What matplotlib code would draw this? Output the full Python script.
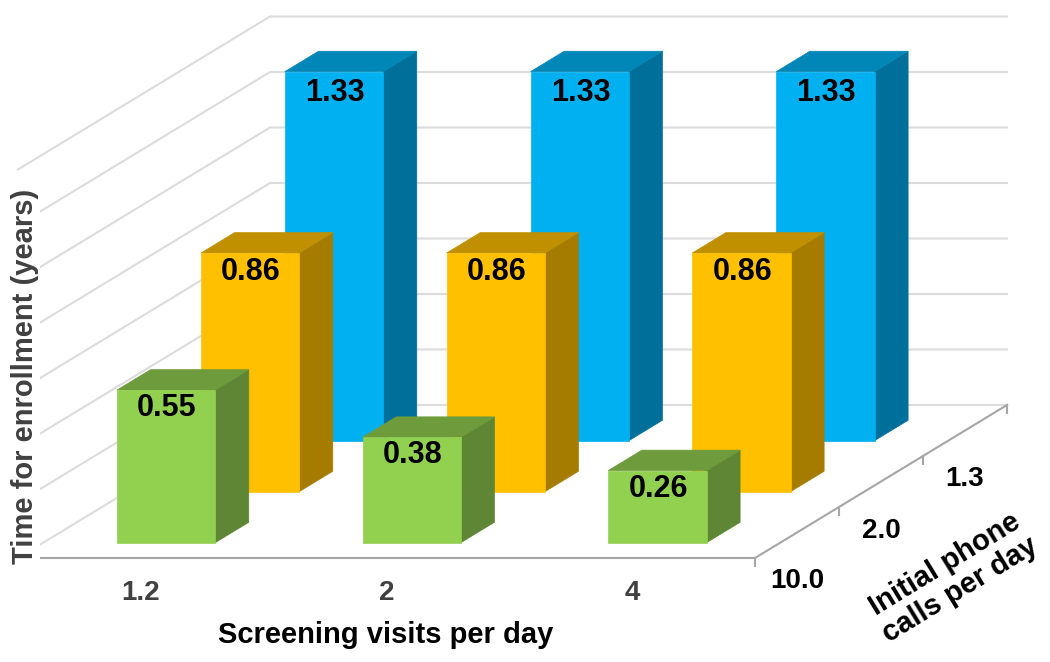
import matplotlib
matplotlib.use("Agg")
import matplotlib.pyplot as plt
from matplotlib.patches import Polygon

# --- DATA ---
screening_visits = ['1.2', '2', '4']
phone_calls = ['10.0', '2.0', '1.3']
time_green = [0.55, 0.38, 0.26]
time_orange = [0.86, 0.86, 0.86]
time_blue = [1.33, 1.33, 1.33]
grid_values = [0.0, 0.2, 0.4, 0.6, 0.8, 1.0, 1.2, 1.4]

# --- COLOURS (front, side, top) ---
GREEN = ('#92D050', '#5E8635', '#6E9B3C')
ORANGE = ('#FFC000', '#A67C00', '#C09000')
BLUE = ('#00B0F0', '#006F9A', '#0087B8')
GRID = '#DCDCDC'
AXIS = '#A6A6A6'
TICK_TEXT = '#404040'

plt.rcParams['font.family'] = ['Liberation Sans', 'DejaVu Sans']


# Oblique projection: column, row (depth), value -> picture position
def project(col, row, z):
    return (18 + 245.67 * col + 84 * row, 558 - 51 * row - 277.5 * z)


def draw_bar(ax, col, row, value, colours, label_dy):
    x0, x1 = col + 0.3, col + 0.7
    y0, y1 = row + 0.3, row + 0.7
    front, side, top = colours
    ax.add_patch(Polygon([project(x1, y0, 0), project(x1, y1, 0), project(x1, y1, value), project(x1, y0, value)],
                         facecolor=side, edgecolor=side, linewidth=0.5, zorder=3))
    ax.add_patch(Polygon([project(x0, y0, value), project(x1, y0, value), project(x1, y1, value), project(x0, y1, value)],
                         facecolor=top, edgecolor=top, linewidth=0.5, zorder=3))
    ax.add_patch(Polygon([project(x0, y0, 0), project(x1, y0, 0), project(x1, y0, value), project(x0, y0, value)],
                         facecolor=front, edgecolor=front, linewidth=0.5, zorder=3))
    px, py = project(col + 0.5, row + 0.3, value)
    ax.text(px + 1, py + label_dy, '%.2f' % value, ha='center', va='center',
            fontsize=22, fontweight='bold', color='black', zorder=4)


fig = plt.figure(figsize=(10.5, 6.62), dpi=100)
ax = fig.add_axes([0, 0, 1, 1])
ax.set_xlim(0, 1050)
ax.set_ylim(662, 0)
ax.axis('off')

# --- WALL GRID ---
for z in grid_values:
    pts = [project(0, 0, z), project(0, 3, z), project(3, 3, z)]
    ax.plot([p[0] for p in pts], [p[1] for p in pts], color=GRID, linewidth=1.5, zorder=1)

# --- FLOOR AXES ---
pts = [project(0, 0, 0), project(3, 0, 0), project(3, 3, 0)]
ax.plot([p[0] for p in pts], [p[1] for p in pts], color=AXIS, linewidth=1.5, zorder=2)
for r in range(4):
    px, py = project(3, r, 0)
    ax.plot([px, px], [py, py + 8], color=AXIS, linewidth=1.5, zorder=2)

# --- BARS, back row first ---
rows = [(2, time_blue, BLUE, 21), (1, time_orange, ORANGE, 19), (0, time_green, GREEN, 18)]
for row, values, colours, label_dy in rows:
    for col, value in enumerate(values):
        draw_bar(ax, col, row, value, colours, label_dy)

# --- TICK LABELS ---
for col, label in enumerate(screening_visits):
    px, py = project(col + 0.5, 0, 0)
    ax.text(px, py + 35, label, ha='center', va='center', fontsize=20,
            fontweight='bold', color=TICK_TEXT)
for row, label in enumerate(phone_calls):
    px, py = project(3, row + 0.5, 0)
    ax.text(px, py + 49, label, ha='center', va='center', fontsize=20,
            fontweight='bold', color='black')

# --- AXIS TITLES ---
ax.text(386, 635, 'Screening visits per day', ha='center', va='center',
        fontsize=21, fontweight='bold', color='black')
ax.text(25, 376, 'Time for enrollment (years)', ha='center', va='center', rotation=90,
        fontsize=21, fontweight='bold', color=TICK_TEXT, zorder=5,
        bbox=dict(facecolor='white', edgecolor='none', pad=1))
ax.text(952, 577, 'Initial phone\ncalls per day', ha='center', va='center', rotation=31.5,
        rotation_mode='anchor', fontsize=21, fontweight='bold', color='black', linespacing=1.05)

fig.savefig('out.png', dpi=100)
